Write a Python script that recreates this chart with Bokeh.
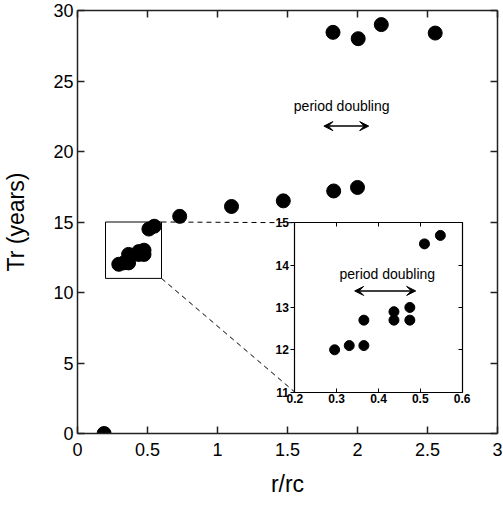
from bokeh.plotting import figure
from bokeh.models import (LinearAxis, FixedTicker, Range1d, Arrow, VeeHead,
                          CustomLabelingPolicy)
from bokeh.core.properties import value
from bokeh.embed import file_html
from bokeh.resources import INLINE

# ---- data ----
main_x = [0.19, 0.73, 1.10, 1.47, 1.83, 2.00, 1.825, 2.005, 2.17, 2.555]
main_y = [0.0, 15.4, 16.1, 16.5, 17.2, 17.45, 28.45, 28.0, 29.0, 28.4]
inset_x = [0.295, 0.330, 0.365, 0.365, 0.437, 0.437, 0.475, 0.475, 0.510, 0.548]
inset_y = [12.0, 12.1, 12.1, 12.7, 12.9, 12.7, 13.0, 12.7, 14.5, 14.7]

main_xticks = [0, 0.5, 1, 1.5, 2, 2.5, 3]
main_xlabels = ["0", "0.5", "1", "1.5", "2", "2.5", "3"]
main_yticks = [0, 5, 10, 15, 20, 25, 30]
inset_xticks = [0.2, 0.3, 0.4, 0.5, 0.6]
inset_xlabels = ["0.2", "0.3", "0.4", "0.5", "0.6"]
inset_yticks = [11, 12, 13, 14, 15]

zoom_box = [0.2, 0.6, 11, 15]          # region magnified in the inset
pd_main_range = [1.76, 2.08]           # period-doubling arrow span (main)
pd_main_arrow_y = 21.8
pd_main_text = [1.887, 23.2]
pd_inset_range = [0.343, 0.489]        # period-doubling arrow span (inset)
pd_inset_arrow_y = 13.39
pd_inset_text = [0.421, 13.78]

# inset placement in main data coordinates
IX0, IX1, IY0, IY1 = 1.553, 2.747, 2.93, 14.95

FONT = "Liberation Sans"


def no_labels(ax):
    ax.major_label_policy = CustomLabelingPolicy(code="return []")
    ax.major_label_text_font_size = "0px"
    ax.major_label_standoff = 0


p = figure(width=503, height=506, x_range=(0, 3), y_range=(0, 30),
           output_backend="svg", toolbar_location=None,
           min_border_left=76, min_border_right=6, min_border_top=10,
           min_border_bottom=73)
p.grid.visible = False
p.outline_line_color = None
p.background_fill_color = "white"

# main axes
for ax in (p.xaxis[0], p.yaxis[0]):
    ax.major_tick_in = 7
    ax.major_tick_out = 0
    ax.minor_tick_line_color = None
    ax.axis_line_width = 1.5
    ax.axis_line_color = "#222222"
    ax.major_tick_line_width = 1.5
    ax.major_tick_line_color = "#222222"
    ax.major_label_text_font = FONT
    ax.major_label_text_font_size = "18px"
    ax.major_label_text_color = "black"
    ax.axis_label_text_font = FONT
    ax.axis_label_text_font_size = "23px"
    ax.axis_label_text_font_style = "normal"
    ax.axis_label_text_color = "black"

p.xaxis[0].ticker = FixedTicker(ticks=main_xticks)
p.xaxis[0].major_label_overrides = dict(zip(main_xticks, main_xlabels))
p.xaxis[0].major_label_standoff = 9
p.xaxis[0].axis_label = "r/rc"
p.xaxis[0].axis_label_standoff = 12
p.yaxis[0].ticker = FixedTicker(ticks=main_yticks)
p.yaxis[0].major_label_standoff = 4
p.yaxis[0].axis_label = "Tr (years)"
p.yaxis[0].axis_label_standoff = 21

for side, ticks in (("above", main_xticks), ("right", main_yticks)):
    ax = LinearAxis(ticker=FixedTicker(ticks=ticks))
    ax.major_tick_in = 7
    ax.major_tick_out = 0
    ax.minor_tick_line_color = None
    ax.axis_line_width = 1.5
    ax.axis_line_color = "#222222"
    ax.major_tick_line_width = 1.5
    ax.major_tick_line_color = "#222222"
    no_labels(ax)
    p.add_layout(ax, side)

# main points
p.scatter(main_x, main_y, size=14, color="black")
p.scatter(inset_x, inset_y, size=14, color="black")

# zoom rectangle and connectors
p.quad(left=[zoom_box[0]], right=[zoom_box[1]], bottom=[zoom_box[2]], top=[zoom_box[3]],
       fill_color=None, line_color="black", line_width=1)
p.segment(x0=[zoom_box[1], zoom_box[1]], y0=[zoom_box[3], zoom_box[2]],
          x1=[IX0, IX0], y1=[IY1, IY0], line_color="black", line_dash="5 4", line_width=1)

# main annotation
p.text(x=[pd_main_text[0]], y=[pd_main_text[1]], text=["period doubling"],
       text_align="center", text_baseline="middle", text_font=value(FONT),
       text_font_size="14px", text_color="black")
p.add_layout(Arrow(start=VeeHead(size=9, fill_color="black", line_color="black"),
                   end=VeeHead(size=9, fill_color="black", line_color="black"),
                   x_start=pd_main_range[0], x_end=pd_main_range[1],
                   y_start=pd_main_arrow_y, y_end=pd_main_arrow_y,
                   line_width=1.5, line_color="black"))

# ---- inset via extra ranges ----
sx = (inset_xticks[-1] - inset_xticks[0]) / (IX1 - IX0)
sy = (inset_yticks[-1] - inset_yticks[0]) / (IY1 - IY0)
p.extra_x_ranges = {"ix": Range1d(inset_xticks[0] - IX0 * sx,
                                  inset_xticks[-1] + (3 - IX1) * sx)}
p.extra_y_ranges = {"iy": Range1d(inset_yticks[0] - IY0 * sy,
                                  inset_yticks[-1] + (30 - IY1) * sy)}

p.quad(left=[inset_xticks[0]], right=[inset_xticks[-1]],
       bottom=[inset_yticks[0]], top=[inset_yticks[-1]],
       fill_color="white", line_color=None, x_range_name="ix", y_range_name="iy")
p.scatter(inset_x, inset_y, size=10, color="black", x_range_name="ix", y_range_name="iy")


def inset_axis(side, ticks, loc, bounds, labels=True, tin=4, tout=0):
    ax = LinearAxis(x_range_name="ix", y_range_name="iy", fixed_location=loc,
                    bounds=bounds, ticker=FixedTicker(ticks=ticks))
    ax.major_tick_in = tin
    ax.major_tick_out = tout
    ax.minor_tick_line_color = None
    ax.axis_line_color = "black"
    ax.axis_line_width = 1.2
    ax.major_tick_line_color = "black"
    ax.major_tick_line_width = 1
    if labels:
        ax.major_label_text_font = FONT
        ax.major_label_text_font_size = "12px"
        ax.major_label_text_font_style = "bold"
        ax.major_label_text_color = "black"
        ax.major_label_standoff = 2
    else:
        no_labels(ax)
    p.add_layout(ax, side)
    return ax


ib = inset_axis("below", inset_xticks, inset_yticks[0], (inset_xticks[0], inset_xticks[-1]))
ib.major_label_overrides = dict(zip(inset_xticks, inset_xlabels))
inset_axis("left", inset_yticks, inset_xticks[0], (inset_yticks[0], inset_yticks[-1]),
           tin=0, tout=4)
inset_axis("above", inset_xticks, inset_yticks[-1], (inset_xticks[0], inset_xticks[-1]),
           labels=False)
inset_axis("right", inset_yticks, inset_xticks[-1], (inset_yticks[0], inset_yticks[-1]),
           labels=False)

p.text(x=[pd_inset_text[0]], y=[pd_inset_text[1]], text=["period doubling"],
       text_align="center", text_baseline="middle", text_font=value(FONT),
       text_font_size="14px", text_color="black", x_range_name="ix", y_range_name="iy")
p.add_layout(Arrow(start=VeeHead(size=9, fill_color="black", line_color="black"),
                   end=VeeHead(size=9, fill_color="black", line_color="black"),
                   x_start=pd_inset_range[0], x_end=pd_inset_range[1],
                   y_start=pd_inset_arrow_y, y_end=pd_inset_arrow_y,
                   line_width=1.5, line_color="black",
                   x_range_name="ix", y_range_name="iy"))

open("out.html", "w").write(file_html(p, INLINE))
